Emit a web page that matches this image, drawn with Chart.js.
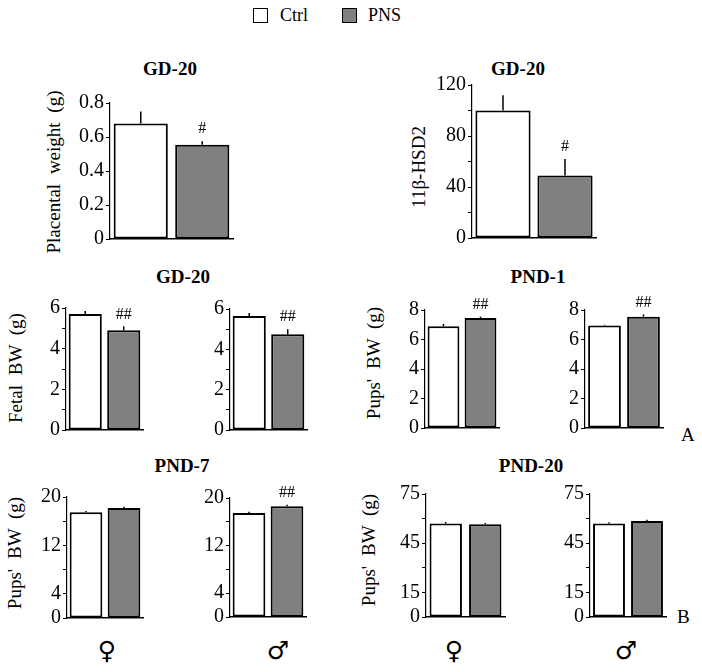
<!DOCTYPE html>
<html>
<head>
<meta charset="utf-8">
<script src="https://cdn.jsdelivr.net/npm/chart.js@4.4.0/dist/chart.umd.min.js"></script>
<style>
  body { margin: 0; background: #fff; }
  #fig { position: relative; width: 702px; height: 672px; overflow: hidden;
         font-family: "Liberation Serif", "Times New Roman", serif; color: #000; }
  #fig canvas { position: absolute; }
  .txt { position: absolute; white-space: nowrap; line-height: 1; }
  .title { font-weight: bold; font-size: 19px; transform: translate(-50%, -50%); }
  .ylab { font-size: 19px; transform: translate(-50%, -50%) rotate(-90deg); word-spacing: 5px; }
  .sex { font-family: "DejaVu Sans", sans-serif; font-size: 25px; font-weight: bold; transform: translate(-50%, -50%); }
  .box { position: absolute; width: 13px; height: 13px; border: 1.5px solid #000; }
</style>
</head>
<body>
<div id="fig">
  <div class="box" style="left:253px; top:8px; background:#fff;"></div>
  <div class="txt" style="left:280px; top:6px; font-size:18px;">Ctrl</div>
  <div class="box" style="left:342px; top:8px; background:#808080;"></div>
  <div class="txt" style="left:368px; top:6px; font-size:18px;">PNS</div>

  <div class="txt title" style="left:170px; top:68px;">GD-20</div>
  <div class="txt title" style="left:518px; top:68px;">GD-20</div>
  <div class="txt title" style="left:183px; top:276px;">GD-20</div>
  <div class="txt title" style="left:538px; top:276px;">PND-1</div>
  <div class="txt title" style="left:182px; top:465px;">PND-7</div>
  <div class="txt title" style="left:531px; top:465px;">PND-20</div>

  <div class="txt ylab" style="left:53px; top:172px;">Placental weight (g)</div>
  <div class="txt ylab" style="left:418px; top:167px;">11β-HSD2</div>
  <div class="txt ylab" style="left:15px; top:368px;">Fetal BW (g)</div>
  <div class="txt ylab" style="left:373px; top:363px;">Pups' BW (g)</div>
  <div class="txt ylab" style="left:14px; top:553px;">Pups' BW (g)</div>
  <div class="txt ylab" style="left:368px; top:550px;">Pups' BW (g)</div>

  <div class="txt" style="left:681px; top:425px; font-size:19px;">A</div>
  <div class="txt" style="left:677px; top:607px; font-size:19px;">B</div>

  <div class="txt sex" style="left:107px; top:650px;">♀</div>
  <div class="txt sex" style="left:278px; top:650px;">♂</div>
  <div class="txt sex" style="left:454px; top:650px;">♀</div>
  <div class="txt sex" style="left:626px; top:650px;">♂</div>
</div>
<script>
// groups
const groups = ["Ctrl", "PNS"];
const barColors = ["#ffffff", "#808080"];

// GD-20 placenta
const placentaMean = [0.68, 0.555];
const placentaErr = [0.07, 0.02];
const placentaSig = ["", "#"];
const placentaTicks = [0, 0.2, 0.4, 0.6, 0.8];

// GD-20 11b-HSD2
const hsdMean = [100, 49];
const hsdErr = [12, 13];
const hsdSig = ["", "#"];
const hsdTicks = [0, 20, 40, 60, 80, 100, 120];
const hsdLabels = [0, 40, 80, 120];

// GD-20 fetal body weight (female, male)
const fetalFemMean = [5.7, 4.9];
const fetalFemErr = [0.15, 0.2];
const fetalMaleMean = [5.65, 4.75];
const fetalMaleErr = [0.15, 0.25];
const fetalSig = ["", "##"];
const fetalTicks = [0, 1, 2, 3, 4, 5, 6];
const fetalLabels = [0, 2, 4, 6];

// PND-1 pups body weight
const pnd1FemMean = [6.9, 7.45];
const pnd1FemErr = [0.15, 0.1];
const pnd1MaleMean = [6.95, 7.55];
const pnd1MaleErr = [0.05, 0.15];
const pnd1Sig = ["", "##"];
const pnd1Ticks = [0, 2, 4, 6, 8];

// PND-7 pups body weight
const pnd7FemMean = [17.5, 18.2];
const pnd7FemErr = [0.2, 0.2];
const pnd7MaleMean = [17.5, 18.6];
const pnd7MaleErr = [0.2, 0.25];
const pnd7FemSig = ["", ""];
const pnd7MaleSig = ["", "##"];
const pnd7Ticks = [0, 4, 8, 12, 16, 20];
const pnd7Labels = [0, 4, 12, 20];

// PND-20 pups body weight
const pnd20FemMean = [57, 56.5];
const pnd20FemErr = [1, 0.8];
const pnd20MaleMean = [57, 58.5];
const pnd20MaleErr = [0.8, 0.8];
const noSig = ["", ""];
const pnd20Ticks = [0, 15, 30, 45, 60, 75];
const pnd20Labels = [0, 15, 45, 75];

const FONT = "'Liberation Serif', 'Times New Roman', serif";
const AXW = 50, PADT = 22, PADB = 14, PADR = 6;

const errPlugin = {
  id: "errbars",
  afterDatasetsDraw(chart, args, opts) {
    const ctx = chart.ctx;
    const y = chart.scales.y;
    const meta = chart.getDatasetMeta(0);
    ctx.save();
    ctx.strokeStyle = "#000";
    ctx.fillStyle = "#000";
    ctx.lineWidth = 1.5;
    ctx.font = "16px " + FONT;
    ctx.textAlign = "center";
    ctx.textBaseline = "bottom";
    meta.data.forEach((bar, i) => {
      const top = y.getPixelForValue(opts.mean[i] + opts.err[i]);
      ctx.beginPath();
      ctx.moveTo(bar.x, bar.y);
      ctx.lineTo(bar.x, top);
      ctx.stroke();
      if (opts.sig[i]) ctx.fillText(opts.sig[i], bar.x, top - 4);
    });
    ctx.restore();
  }
};
Chart.register(errPlugin);

function panel(ax, rx, ty, by, mean, err, sig, ticks, labels, barPct) {
  const c = document.createElement("canvas");
  const w = rx - ax + AXW + PADR;
  const h = by - ty + PADT + PADB;
  c.width = w; c.height = h;
  c.style.left = (ax - AXW) + "px";
  c.style.top = (ty - PADT) + "px";
  c.style.width = w + "px";
  c.style.height = h + "px";
  document.getElementById("fig").appendChild(c);
  new Chart(c, {
    type: "bar",
    data: {
      labels: groups,
      datasets: [{
        data: mean,
        backgroundColor: barColors,
        borderColor: "#000",
        borderWidth: 2,
        borderSkipped: false,
        categoryPercentage: 1,
        barPercentage: barPct
      }]
    },
    options: {
      responsive: false,
      animation: false,
      devicePixelRatio: 1,
      layout: { padding: { top: PADT, bottom: PADB, left: 0, right: PADR } },
      plugins: {
        legend: { display: false },
        tooltip: { enabled: false },
        errbars: { mean: mean, err: err, sig: sig }
      },
      scales: {
        x: {
          ticks: { display: false },
          grid: { display: false },
          border: { color: "#000", width: 1.5 },
          afterFit: s => { s.height = 0; }
        },
        y: {
          min: ticks[0],
          max: ticks[ticks.length - 1],
          afterBuildTicks: s => { s.ticks = ticks.map(v => ({ value: v })); },
          afterFit: s => { s.width = AXW; },
          ticks: {
            color: "#000",
            padding: 2,
            autoSkip: false,
            font: { family: FONT, size: 20 },
            callback: v => (labels.includes(v) ? String(v) : "")
          },
          grid: { drawOnChartArea: false, color: "#000", tickLength: 4 },
          border: { color: "#000", width: 1.2 }
        }
      }
    }
  });
}

panel(110, 233, 103, 239, placentaMean, placentaErr, placentaSig, placentaTicks, placentaTicks, 0.88);
panel(472, 596, 85, 238, hsdMean, hsdErr, hsdSig, hsdTicks, hsdLabels, 0.89);
panel(66, 143, 308, 430, fetalFemMean, fetalFemErr, fetalSig, fetalTicks, fetalLabels, 0.86);
panel(230, 307, 309, 430, fetalMaleMean, fetalMaleErr, fetalSig, fetalTicks, fetalLabels, 0.86);
panel(425, 499, 310, 428, pnd1FemMean, pnd1FemErr, pnd1Sig, pnd1Ticks, pnd1Ticks, 0.86);
panel(585, 663, 310, 428, pnd1MaleMean, pnd1MaleErr, pnd1Sig, pnd1Ticks, pnd1Ticks, 0.84);
panel(67, 143, 497, 618, pnd7FemMean, pnd7FemErr, pnd7FemSig, pnd7Ticks, pnd7Labels, 0.86);
panel(230, 306, 498, 617, pnd7MaleMean, pnd7MaleErr, pnd7MaleSig, pnd7Ticks, pnd7Labels, 0.86);
panel(426, 505, 494, 617, pnd20FemMean, pnd20FemErr, noSig, pnd20Ticks, pnd20Labels, 0.82);
panel(590, 666, 494, 617, pnd20MaleMean, pnd20MaleErr, noSig, pnd20Ticks, pnd20Labels, 0.84);
</script>
</body>
</html>
